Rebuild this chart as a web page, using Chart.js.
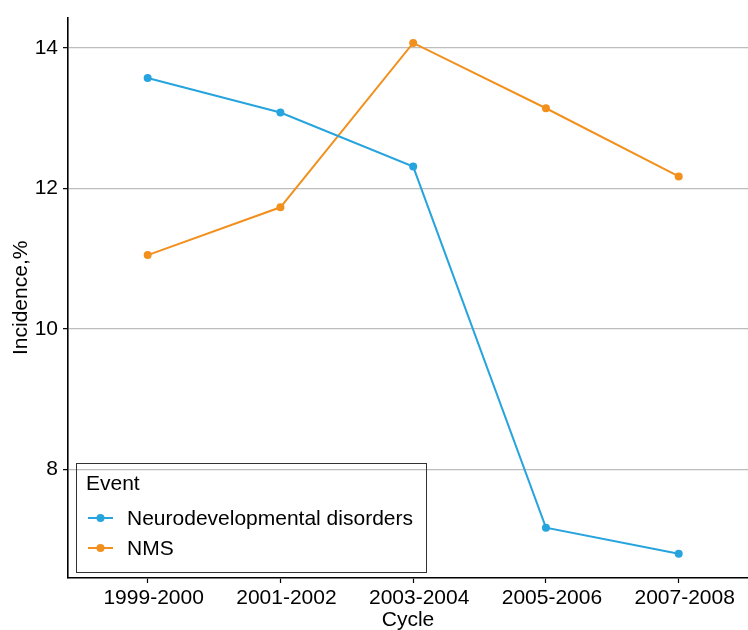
<!DOCTYPE html>
<html>
<head>
<meta charset="utf-8">
<script src="https://cdn.jsdelivr.net/npm/chart.js@4"></script>
<style>
  html, body { margin: 0; padding: 0; background: #fff; overflow: hidden; }
  #wrap { width: 748px; height: 630px; overflow: hidden; }
</style>
</head>
<body>
<div id="wrap"><canvas id="chart" width="752" height="630"></canvas></div>
<script>
var cycles = ["1999-2000", "2001-2002", "2003-2004", "2005-2006", "2007-2008"];
var neuroValues = [13.57, 13.08, 12.31, 7.17, 6.80];
var nmsValues = [11.05, 11.73, 14.07, 13.14, 12.17];
var yTicks = [8, 10, 12, 14];

var blue = '#27a4dd';
var orange = '#f2901e';
var font = "'Liberation Sans', Arial, sans-serif";

function toPoints(arr) {
    return arr.map(function(v, i){ return {x: i, y: v}; });
}

// legend drawn inside the plot, like the ggplot one
var legendBox = {
    id: 'legendBox',
    afterDraw: function(chart) {
        var ctx = chart.ctx;
        ctx.save();
        ctx.strokeStyle = '#333';
        ctx.lineWidth = 1;
        ctx.strokeRect(76.5, 463.5, 350, 109);
        ctx.fillStyle = '#000';
        ctx.font = '21px ' + font;
        ctx.textBaseline = 'middle';
        ctx.fillText('Event', 86, 484);
        chart.data.datasets.forEach(function(ds, i){
            var y = 518 + i * 30;
            ctx.strokeStyle = ds.borderColor;
            ctx.lineWidth = 2;
            ctx.beginPath();
            ctx.moveTo(88, y);
            ctx.lineTo(113, y);
            ctx.stroke();
            ctx.fillStyle = ds.borderColor;
            ctx.beginPath();
            ctx.arc(100.5, y, 4, 0, Math.PI * 2);
            ctx.fill();
            ctx.fillStyle = '#000';
            ctx.fillText(ds.label, 127, y + 1);
        });
        ctx.restore();
    }
};

var ctx = document.getElementById('chart').getContext('2d');
var chart = new Chart(ctx, {
    type: 'line',
    data: {
        datasets: [{
            label: 'Neurodevelopmental disorders',
            data: toPoints(neuroValues),
            borderColor: blue,
            backgroundColor: blue,
            borderWidth: 2,
            pointRadius: 4,
            pointBorderWidth: 0
        }, {
            label: 'NMS',
            data: toPoints(nmsValues),
            borderColor: orange,
            backgroundColor: orange,
            borderWidth: 2,
            pointRadius: 4,
            pointBorderWidth: 0
        }]
    },
    options: {
        responsive: false,
        animation: false,
        layout: { padding: { top: 15, right: 0, left: 0, bottom: 0 } },
        plugins: { legend: { display: false }, tooltip: { enabled: false } },
        scales: {
            x: {
                type: 'linear',
                min: -0.6,
                max: 4.522,
                afterBuildTicks: function(scale){
                    scale.ticks = cycles.map(function(c, i){ return {value: i}; });
                },
                afterFit: function(scale){ scale.height = 52; },
                ticks: {
                    color: '#000',
                    font: { family: font, size: 21 },
                    padding: 3,
                    labelOffset: 6,
                    maxRotation: 0,
                    callback: function(v){ return cycles[v]; }
                },
                grid: { drawOnChartArea: false, drawTicks: true, tickLength: 5, tickColor: '#000', tickWidth: 1.2 },
                border: { display: true, color: '#000', width: 1.6 },
                title: { display: true, text: 'Cycle', color: '#000', font: { family: font, size: 21 }, padding: { top: 0, bottom: -3 } }
            },
            y: {
                min: 6.454,
                max: 14.43,
                afterBuildTicks: function(scale){
                    scale.ticks = yTicks.map(function(v){ return {value: v}; });
                },
                afterFit: function(scale){ scale.width = 68; },
                ticks: {
                    color: '#000',
                    font: { family: font, size: 21 },
                    padding: 5
                },
                grid: { color: '#bdbdbd', lineWidth: 1.3, tickLength: 5, tickColor: '#000', tickWidth: 1.2 },
                border: { display: true, color: '#000', width: 1.6 },
                title: { display: true, text: 'Incidence,%', color: '#000', font: { family: font, size: 21 }, padding: { top: 9, bottom: 0 } }
            }
        }
    },
    plugins: [legendBox]
});
</script>
</body>
</html>
